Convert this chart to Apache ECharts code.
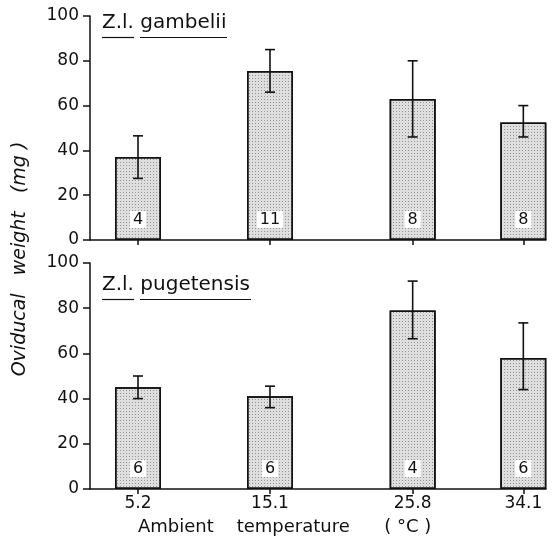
<!DOCTYPE html>
<html><head><meta charset="utf-8">
<script src="https://cdn.jsdelivr.net/npm/echarts@6/dist/echarts.min.js"></script>
<style>html,body{margin:0;padding:0;background:#fff}#c{width:552px;height:544px}</style>
</head><body><div id="c"></div>
<script>
// ---- data ----
const temps = [5.2, 15.1, 25.8, 34.1];
const tempLabels = ['5.2', '15.1', '25.8', '34.1'];
const gambeliiMean = [37, 75.5, 63, 52.5];
const gambeliiLow = [27.5, 66, 46, 46];
const gambeliiHigh = [46.5, 85, 80, 60];
const gambeliiN = ['4', '11', '8', '8'];
const pugetensisMean = [45, 41, 79, 58];
const pugetensisLow = [40, 36, 66.5, 44];
const pugetensisHigh = [50, 45.5, 92, 73.5];
const pugetensisN = ['6', '6', '4', '6'];
const panelTitles = ['Z.l. gambelii', 'Z.l. pugetensis'];
const xTitle = 'Ambient    temperature      ( °C )';
const yTitle = 'Oviducal   weight   (mg )';

// ---- chart ----
const FONT = 'DejaVu Sans';
const INK = '#111';
const chart = echarts.init(document.getElementById('c'), null, {renderer: 'canvas'});

const panels = [
  {mean: gambeliiMean, low: gambeliiLow, high: gambeliiHigh, n: gambeliiN},
  {mean: pugetensisMean, low: pugetensisLow, high: pugetensisHigh, n: pugetensisN}
];

const grids = [
  {left: 90, width: 456, top: 16, height: 224},
  {left: 90, width: 456, top: 263, height: 226}
];

const xAxes = grids.map((g, i) => ({
  type: 'value', gridIndex: i, min: 1.6, max: 35.8,
  axisLine: {show: true, onZero: false, lineStyle: {color: INK, width: 1.5}},
  axisTick: {show: true, customValues: temps, length: 5, lineStyle: {color: INK, width: 1.5}},
  axisLabel: {show: i === 1, customValues: temps, margin: 6,
    formatter: v => { const k = temps.findIndex(t => Math.abs(t - v) < 1e-6); return k >= 0 ? tempLabels[k] : ''; },
    fontFamily: FONT, fontSize: 17, color: INK},
  splitLine: {show: false}
}));

const yAxes = grids.map((g, i) => ({
  type: 'value', gridIndex: i, min: 0, max: 100, interval: 20,
  axisLine: {show: true, lineStyle: {color: INK, width: 1.5}},
  axisTick: {show: true, length: 7, lineStyle: {color: INK, width: 1.5}},
  axisLabel: {fontFamily: FONT, fontSize: 17, color: INK, margin: 11},
  splitLine: {show: false}
}));

const series = [];
panels.forEach((p, i) => {
  series.push({
    type: 'bar', xAxisIndex: i, yAxisIndex: i, barWidth: 46,
    data: temps.map((t, j) => [t, p.mean[j]]),
    itemStyle: {color: '#dedede', borderColor: INK, borderWidth: 1.5,
      decal: {symbol: 'rect', symbolSize: 1, color: 'rgba(0,0,0,0.33)', dashArrayX: [1, 2], dashArrayY: [1, 2], rotation: 0}},
    label: {show: true, position: 'insideBottom', distance: 12,
      formatter: q => p.n[q.dataIndex], fontFamily: FONT, fontSize: 16, color: INK,
      backgroundColor: '#fff', padding: [1, 3, 0, 3]},
    emphasis: {disabled: true}, silent: true
  });
  series.push({
    type: 'custom', xAxisIndex: i, yAxisIndex: i, z: 10, silent: true,
    data: temps.map((t, j) => [t, p.low[j], p.high[j]]),
    encode: {x: 0, y: [1, 2]},
    renderItem: (params, api) => {
      const x = api.value(0);
      const lo = api.coord([x, api.value(1)]);
      const hi = api.coord([x, api.value(2)]);
      const hw = 5;
      const st = {stroke: INK, lineWidth: 1.6};
      return {type: 'group', children: [
        {type: 'line', shape: {x1: lo[0], y1: lo[1], x2: hi[0], y2: hi[1]}, style: st},
        {type: 'line', shape: {x1: hi[0] - hw, y1: hi[1], x2: hi[0] + hw, y2: hi[1]}, style: st},
        {type: 'line', shape: {x1: lo[0] - hw, y1: lo[1], x2: lo[0] + hw, y2: lo[1]}, style: st}
      ]};
    }
  });
});

const ul = {stroke: INK, lineWidth: 1.2};
const graphic = [
  {type: 'text', left: 102, top: 13, style: {text: panelTitles[0], font: '20px "DejaVu Sans"', fill: INK}},
  {type: 'line', shape: {x1: 102, y1: 37.5, x2: 134, y2: 37.5}, style: ul},
  {type: 'line', shape: {x1: 140, y1: 37.5, x2: 227, y2: 37.5}, style: ul},
  {type: 'text', left: 102, top: 275, style: {text: panelTitles[1], font: '20px "DejaVu Sans"', fill: INK}},
  {type: 'line', shape: {x1: 102, y1: 299.5, x2: 134, y2: 299.5}, style: ul},
  {type: 'line', shape: {x1: 140, y1: 299.5, x2: 251, y2: 299.5}, style: ul},
  {type: 'text', x: 138, y: 527, style: {text: xTitle, font: '18px "DejaVu Sans"', fill: INK, verticalAlign: 'middle', align: 'left'}},
  {type: 'text', x: 20, y: 259, rotation: Math.PI / 2,
    style: {text: yTitle, font: 'italic 19px "DejaVu Sans"', fill: INK, align: 'center', verticalAlign: 'middle'}}
];

chart.setOption({
  animation: false,
  backgroundColor: '#fff',
  grid: grids,
  xAxis: xAxes,
  yAxis: yAxes,
  series: series,
  graphic: graphic
});
</script></body></html>
